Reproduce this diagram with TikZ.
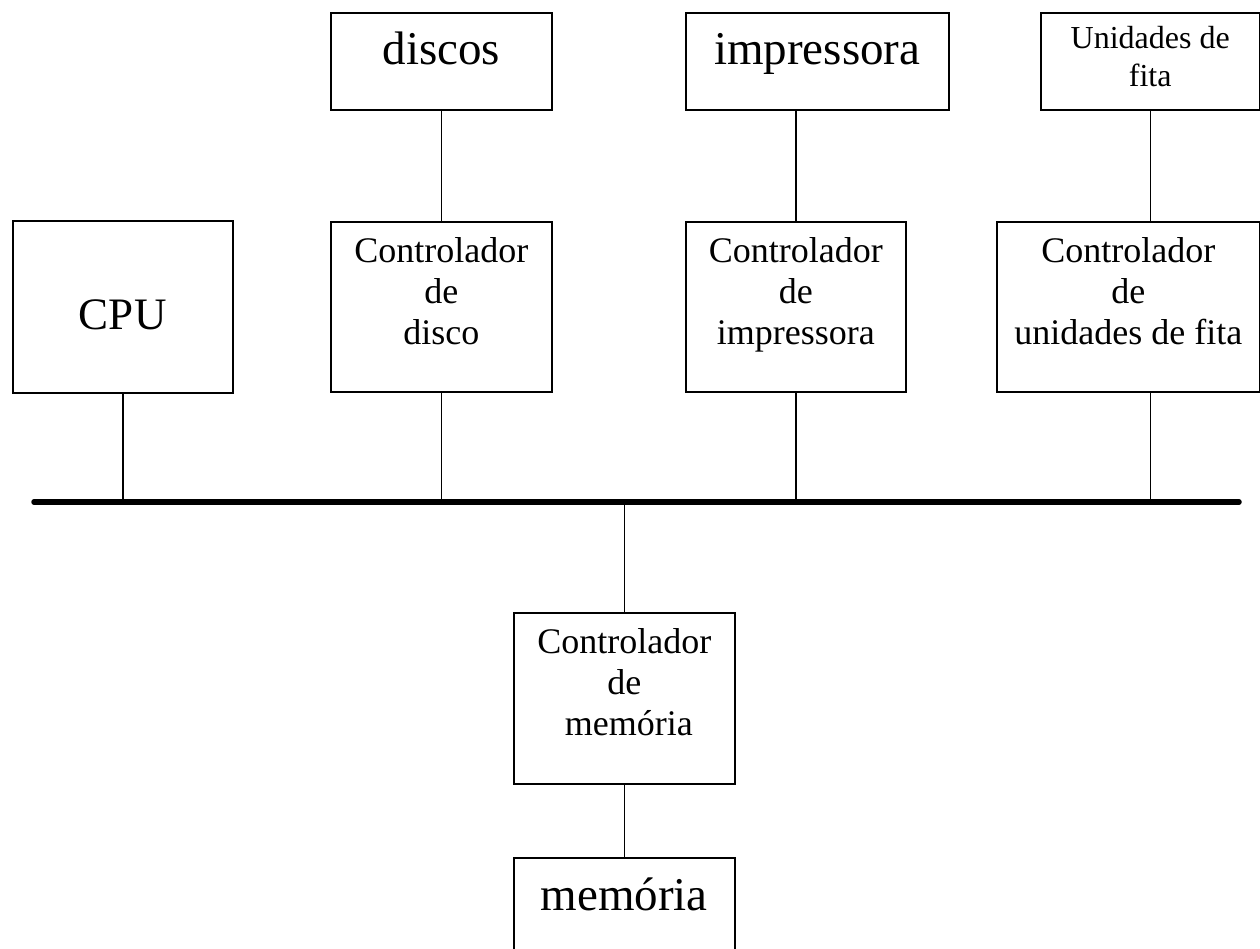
\documentclass[tikz,border=0pt]{standalone}
\usepackage{fontspec}
\setmainfont{Liberation Serif}
\newcommand\bxt[6]{\parbox[c][#2pt][t]{#1pt}{\centering\fontsize{#3pt}{#4pt}\selectfont\rule{0pt}{#5pt}#6}}
\tikzset{
  unitbox/.style={draw, line width=1.5pt, inner sep=0pt, anchor=north west},
  link/.style={line width=1.5pt},
  busline/.style={line width=5.5pt, line cap=round}
}
\begin{document}
\begin{tikzpicture}[x=1pt, y=-1pt]
\useasboundingbox (0,0) rectangle (1260,948);
% boxes
\node[unitbox] (cpu)    at (12,220)  {\bxt{220}{172}{45}{45}{109}{CPU}};
\node[unitbox] (discos) at (330,12)  {\bxt{221}{97}{47}{47}{52}{discos}};
\node[unitbox] (impr)   at (685,12)  {\bxt{263}{97}{47}{47}{52}{impressora}};
\node[unitbox] (fita)   at (1040,12) {\bxt{219}{97}{32}{38}{36}{Unidades de\\fita}};
\node[unitbox] (cdisco) at (330,221) {\bxt{221}{170}{36}{41}{41}{Controlador\\de\\disco}};
\node[unitbox] (cimpr)  at (685,221) {\bxt{220}{170}{36}{41}{41}{Controlador\\de\\impressora}};
\node[unitbox] (cfita)  at (996,221) {\bxt{263}{170}{36}{41}{41}{Controlador\\de\\unidades de fita}};
\node[unitbox] (cmem)   at (513,612) {\bxt{221}{171}{36}{41}{41}{Controlador\\de\\\hspace*{0.25em}memória}};
\node[unitbox] (mem)    at (513,857) {\bxt{221}{97}{47}{47}{53}{memória}};
% bus
\coordinate (busL) at (34,502);
\coordinate (busR) at (1239,502);
\draw[busline] (busL) -- (busR);
% links
\draw[link] (cpu.south) -- (cpu.south |- busL);
\draw[link] (discos.south) -- (cdisco.north);
\draw[link] (cdisco.south) -- (cdisco.south |- busL);
\draw[link] (cimpr.south |- impr.south) -- (cimpr.north);
\draw[link] (cimpr.south) -- (cimpr.south |- busL);
\draw[link] (fita.south) -- (fita.south |- cfita.north);
\draw[link] (fita.south |- cfita.south) -- (fita.south |- busL);
\draw[link] (cmem.north |- busL) -- (cmem.north);
\draw[link] (cmem.south) -- (mem.north);
\end{tikzpicture}
\end{document}
